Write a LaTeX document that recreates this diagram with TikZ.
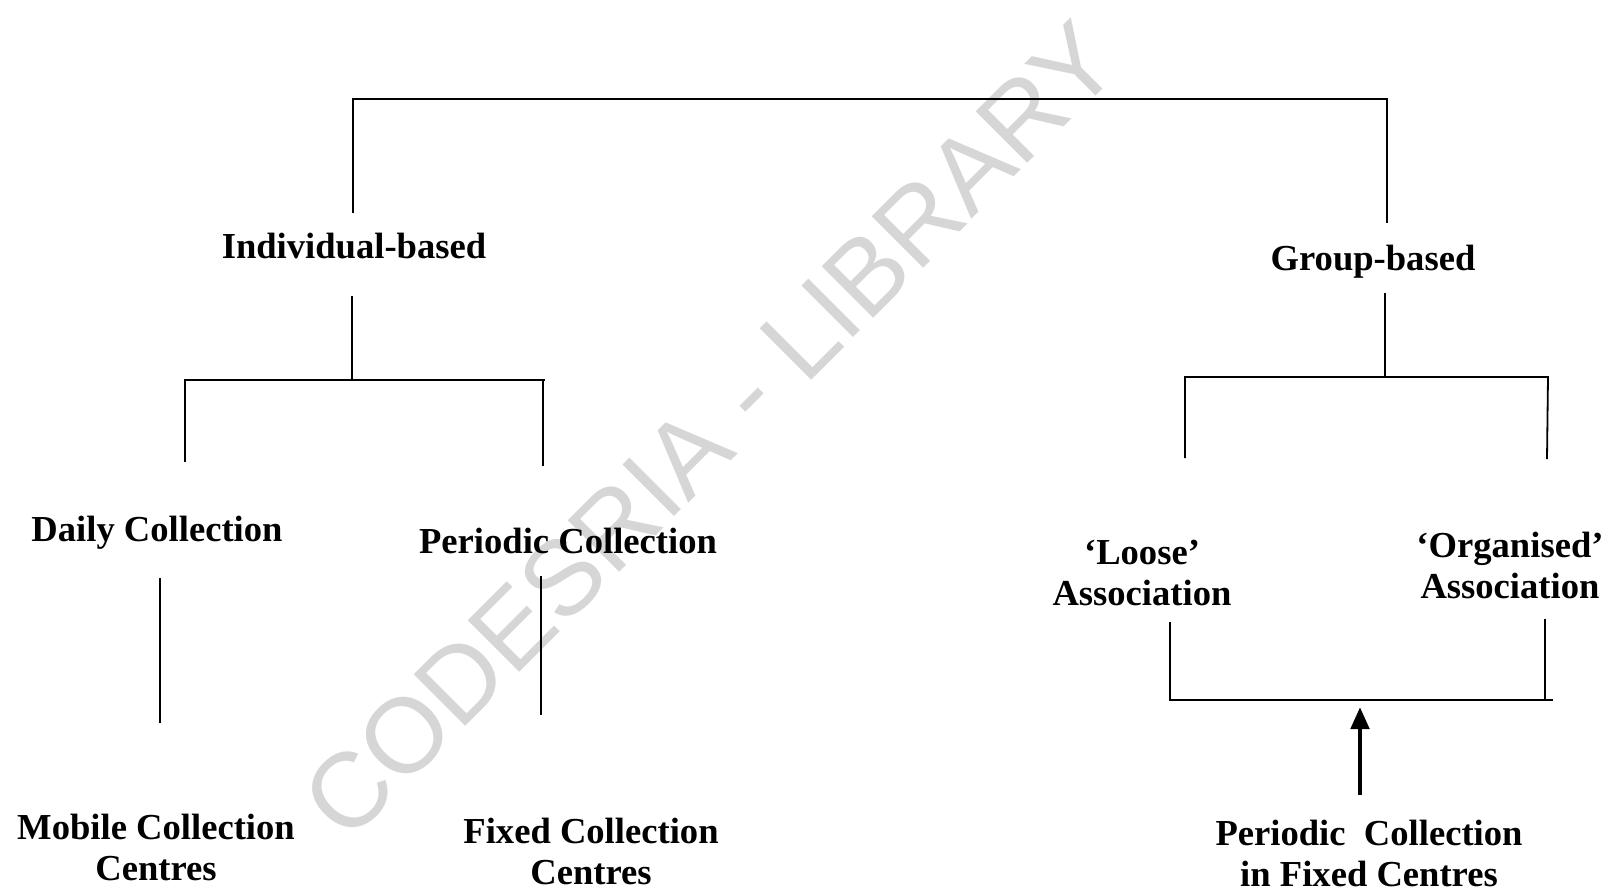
\documentclass[tikz,border=0pt]{standalone}
\usepackage{fontspec}
\setmainfont{Liberation Serif}
\newfontfamily\wmfont{Liberation Sans}
\usetikzlibrary{arrows.meta}
\definecolor{wmgray}{RGB}{214,214,214}

\begin{document}
\begin{tikzpicture}[x=0.5pt, y=-0.5pt]
\tikzstyle{cat_txt}=[align=center, inner sep=0pt, font=\fontsize{18.3}{20.5}\selectfont\bfseries]
\tikzstyle{wmark}=[text=wmgray, inner sep=0pt, font=\wmfont\fontsize{53}{53}\selectfont, rotate=45]
\tikzstyle{link}=[black, line width=0.9pt]
\tikzstyle{push}=[black, line width=2.4pt, -{Triangle[width=9pt,length=11pt]}]
%
\useasboundingbox (0,0) rectangle (1624,891);
\node [wmark] (wm) at (710,430) {CODESRIA - LIBRARY};

\node [cat_txt] (indiv) at (354,246) {Individual-based};
\node [cat_txt] (group) at (1373,262) {Group-based};
\node [cat_txt] (daily) at (157,533) {Daily Collection};
\node [cat_txt] (period) at (568,541) {Periodic Collection};
\node [cat_txt] (mobile) at (156,847) {Mobile Collection\\Centres};
\node [cat_txt] (fixed) at (591,851) {Fixed Collection\\Centres};
\node [cat_txt] (loose) at (1142,573) {`Loose'\\Association};
\node [cat_txt] (organ) at (1510,565) {`Organised'\\Association};
\node [cat_txt] (pfixed) at (1369,853) {Periodic\ \ Collection\\in Fixed Centres};

% line ends
\coordinate (top_l) at (353,99);
\coordinate (top_r) at (1387,99);
\coordinate (indiv_up) at (353,213);
\coordinate (group_up) at (1387,223);
\coordinate (indiv_dn) at (352,296);
\coordinate (indiv_bar) at (352,380);
\coordinate (ibar_l) at (185,380);
\coordinate (ibar_r) at (545,380);
\coordinate (daily_up) at (185,462);
\coordinate (period_up) at (543,466);
\coordinate (daily_dn) at (160,578);
\coordinate (mobile_up) at (160,723);
\coordinate (period_dn) at (541,576);
\coordinate (fixed_up) at (541,715);
\coordinate (group_dn) at (1385,293);
\coordinate (group_bar) at (1385,377);
\coordinate (gbar_l) at (1185,377);
\coordinate (gbar_r) at (1548,377);
\coordinate (loose_up) at (1185,458);
\coordinate (organ_up) at (1547,459);
\coordinate (loose_dn) at (1170,622);
\coordinate (lbar_l) at (1170,700);
\coordinate (lbar_r) at (1553,700);
\coordinate (organ_dn) at (1545,619);
\coordinate (organ_bar) at (1545,700);
\coordinate (arr_tip) at (1360,707);
\coordinate (arr_tail) at (1360,795);

\draw [link] (indiv_up) -- (top_l) -- (top_r) -- (group_up);
\draw [link] (indiv_dn) -- (indiv_bar);
\draw [link] (daily_up) -- (ibar_l) -- (ibar_r);
\draw [link] (period_up) -- (543,380);
\draw [link] (daily_dn) -- (mobile_up);
\draw [link] (period_dn) -- (fixed_up);
\draw [link] (group_dn) -- (group_bar);
\draw [link] (loose_up) -- (gbar_l) -- (gbar_r) -- (organ_up);
\draw [link] (loose_dn) -- (lbar_l) -- (lbar_r);
\draw [link] (organ_dn) -- (organ_bar);
\draw [push] (arr_tail) -- (arr_tip);
%
\end{tikzpicture}
\end{document}
